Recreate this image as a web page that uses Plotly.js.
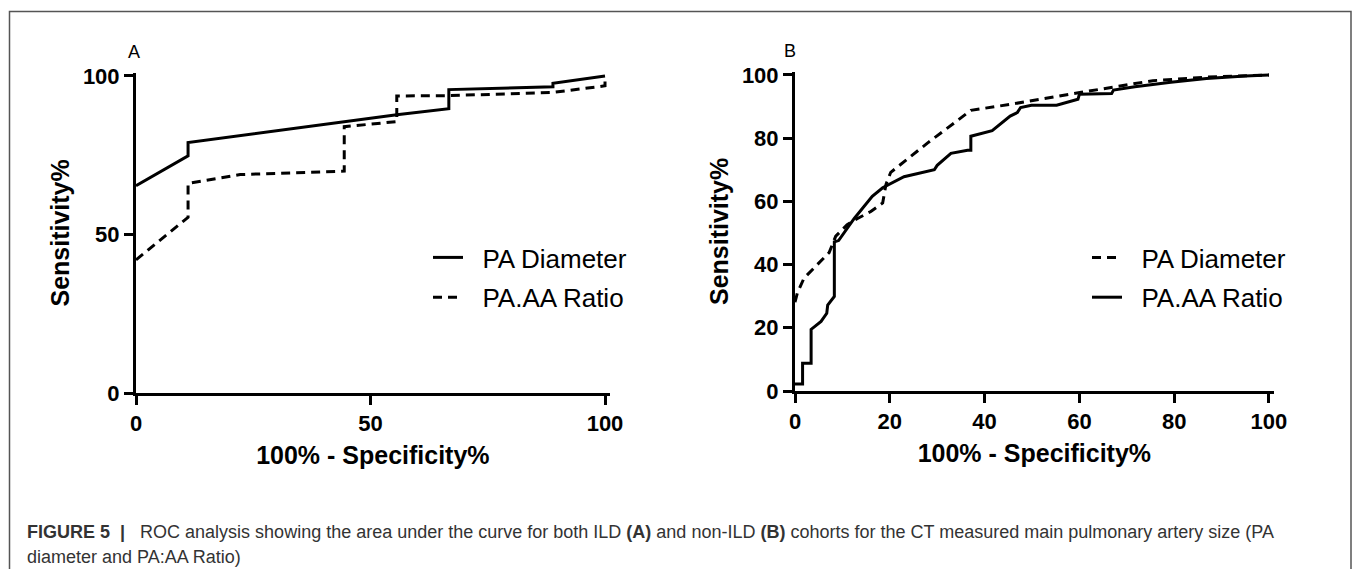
<!DOCTYPE html>
<html>
<head>
<meta charset="utf-8">
<script src="https://cdn.plot.ly/plotly-3.0.1.min.js"></script>
<style>
html,body{margin:0;padding:0;background:#fff;}
#chart{width:1355px;height:569px;}
</style>
</head>
<body>
<div id="chart"></div>
<script>
// Panel A (ILD)
const aDiameterX = [0, 11.1, 11.1, 55.6, 66.7, 66.7, 88.9, 88.9, 100];
const aDiameterY = [65.4, 74.8, 79, 87.8, 89.7, 95.7, 96.6, 97.7, 100];
const aRatioX = [0, 11.1, 11.1, 22.2, 44.4, 44.4, 55.6, 55.6, 66.7, 88.9, 100, 100];
const aRatioY = [42, 55.4, 66.1, 68.9, 70, 84, 85.6, 93.7, 93.8, 94.8, 96.9, 100];
// Panel B (non-ILD)
const bDiameterX = [0, 0.5, 1.9, 7.2, 8.6, 11, 13.2, 16, 18.5, 19.2, 20.2, 28, 37.1, 45.4, 60.4, 75.5, 86.8, 100];
const bDiameterY = [28.1, 31, 35.7, 43.8, 49, 52.6, 54.6, 56.8, 59.5, 65.4, 69.2, 78.5, 88.8, 90.7, 94.5, 98.2, 99.3, 100];
const bRatioX = [0, 1.6, 1.6, 3.4, 3.4, 5.5, 6.7, 6.9, 8.3, 8.3, 9.2, 12.5, 16.3, 18.5, 23, 29.4, 30, 32.9, 36.4, 37.1, 37.1, 41.6, 45.4, 46.9, 47.6, 49.9, 55.2, 59.7, 60, 66.8, 67.2, 71.7, 79.3, 86.8, 95, 100];
const bRatioY = [2.2, 2.2, 8.8, 8.8, 19.5, 22, 24.6, 27.2, 29.9, 47.2, 47.6, 54.6, 61.6, 64.3, 67.8, 70, 71.4, 75.2, 76.2, 76.2, 80.6, 82.4, 87, 88.1, 89.7, 90.4, 90.4, 92.3, 93.9, 94.1, 95.2, 96.3, 97.7, 98.9, 99.7, 100];

const seriesNames = ["PA Diameter", "PA.AA Ratio"];
const ticksA = [0, 50, 100];
const ticksB = [0, 20, 40, 60, 80, 100];
const xTitle = "100% - Specificity%";
const yTitle = "Sensitivity%";
const panelLabels = ["A", "B"];
const captionLine1 = "<b>FIGURE 5</b>  <b>|</b>   ROC analysis showing the area under the curve for both ILD <b>(A)</b> and non-ILD <b>(B)</b> cohorts for the CT measured main pulmonary artery size (PA";
const captionLine2 = "diameter and PA:AA Ratio)";

const W = 1355, H = 569;
const FAM = "Liberation Sans, Arial, sans-serif";
const solid = {color: "#000", width: 3, dash: "solid"};
const dashed = {color: "#000", width: 3, dash: "9px,6px"};
const pad = "\u00a0\u00a0";

const traces = [
  {x: aDiameterX, y: aDiameterY, name: pad + seriesNames[0], mode: "lines", line: solid, xaxis: "x", yaxis: "y", legend: "legend", legendgroup: "a1"},
  {x: aRatioX, y: aRatioY, name: pad + seriesNames[1], mode: "lines", line: dashed, xaxis: "x", yaxis: "y", legend: "legend", legendgroup: "a2"},
  {x: bDiameterX, y: bDiameterY, name: pad + seriesNames[0], mode: "lines", line: dashed, xaxis: "x2", yaxis: "y2", legend: "legend2", legendgroup: "b1"},
  {x: bRatioX, y: bRatioY, name: pad + seriesNames[1], mode: "lines", line: solid, xaxis: "x2", yaxis: "y2", legend: "legend2", legendgroup: "b2"}
];

function axis(domain, ticks, anchor, titleText, isY) {
  return {
    domain: domain, range: [0, 101], anchor: anchor,
    tickmode: "array", tickvals: ticks, ticktext: ticks.map(String),
    showline: true, linecolor: "#000", linewidth: 3,
    ticks: "outside", ticklen: 9, tickwidth: 3, tickcolor: "#000",
    tickfont: {family: FAM, size: 22, color: "#000", weight: "bold"},
    showgrid: false, zeroline: false, fixedrange: true,
    title: {text: titleText, font: {family: FAM, size: 25, color: "#000", weight: "bold"}, standoff: isY ? 7 : 12},
    automargin: false
  };
}

const px = v => v / W;
const py = v => 1 - v / H;

const legendBase = {
  font: {family: FAM, size: 26, color: "#000"},
  bgcolor: "rgba(0,0,0,0)", borderwidth: 0,
  traceorder: "grouped", tracegroupgap: 3,
  xanchor: "left", yanchor: "top", itemwidth: 30
};

const layout = {
  width: W, height: H,
  margin: {l: 0, r: 0, t: 0, b: 0},
  paper_bgcolor: "#fff", plot_bgcolor: "#fff",
  showlegend: true,
  xaxis: axis([px(136), px(609.7)], ticksA, "y", xTitle, false),
  yaxis: axis([py(72.8), py(393)].reverse(), ticksA, "x", yTitle, true),
  xaxis2: axis([px(795), px(1273.7)], ticksB, "y2", xTitle, false),
  yaxis2: axis([py(71.8), py(391)].reverse(), ticksB, "x2", yTitle, true),
  legend: Object.assign({}, legendBase, {x: px(428), y: py(234)}),
  legend2: Object.assign({}, legendBase, {x: px(1087), y: py(234)}),
  annotations: [
    {text: panelLabels[0], xref: "paper", yref: "paper", x: px(134), y: py(52), xanchor: "center", yanchor: "middle", showarrow: false, font: {family: FAM, size: 18, color: "#000"}},
    {text: panelLabels[1], xref: "paper", yref: "paper", x: px(790), y: py(51), xanchor: "center", yanchor: "middle", showarrow: false, font: {family: FAM, size: 18, color: "#000"}},
    {text: captionLine1, xref: "paper", yref: "paper", x: px(25), y: py(532), xanchor: "left", yanchor: "middle", showarrow: false, font: {family: FAM, size: 18, color: "#333"}},
    {text: captionLine2, xref: "paper", yref: "paper", x: px(25), y: py(557), xanchor: "left", yanchor: "middle", showarrow: false, font: {family: FAM, size: 18, color: "#333"}}
  ],
  shapes: [
    {type: "path", xref: "paper", yref: "paper",
     path: "M " + px(9.5) + " " + py(575) + " L " + px(9.5) + " " + py(11.5) + " L " + px(1351) + " " + py(11.5) + " L " + px(1351) + " " + py(575),
     line: {color: "#555", width: 1.5}}
  ]
};

Plotly.newPlot("chart", traces, layout, {displayModeBar: false, staticPlot: true});
</script>
</body>
</html>
